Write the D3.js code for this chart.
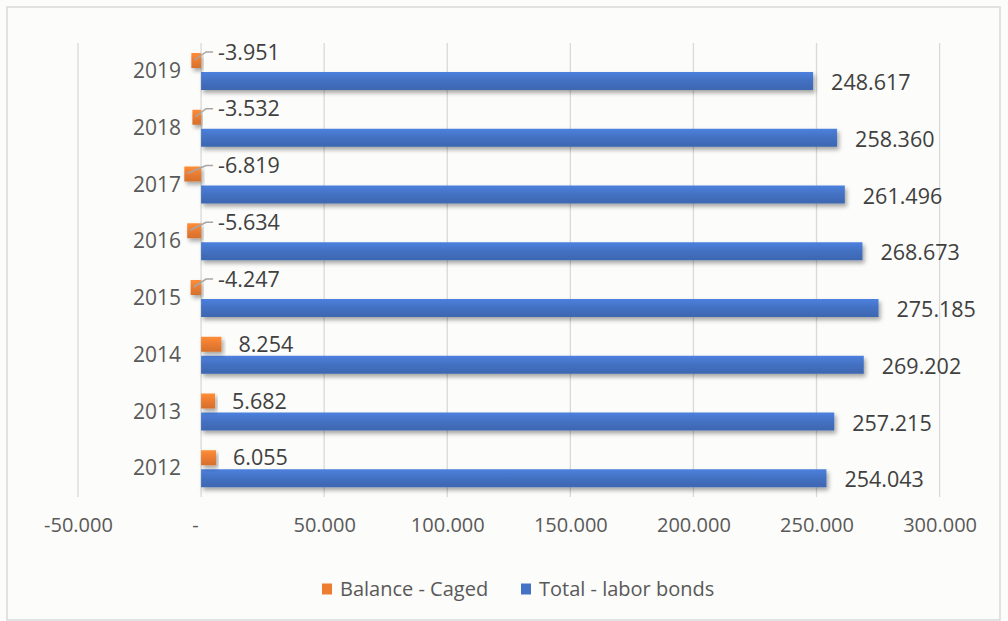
<!DOCTYPE html>
<html><head><meta charset="utf-8">
<script src="https://cdn.jsdelivr.net/npm/d3@7"></script>
<style>html,body{margin:0;padding:0;background:#fcfcfa;}svg{display:block;font-family:"Open Sans",sans-serif;}</style>
</head><body>
<svg id="c" width="1008" height="621"></svg>
<script>
const years = [2012, 2013, 2014, 2015, 2016, 2017, 2018, 2019];
const balance = [6055, 5682, 8254, -4247, -5634, -6819, -3532, -3951];
const total = [254043, 257215, 269202, 275185, 268673, 261496, 258360, 248617];
const tickValues = [-50000, 0, 50000, 100000, 150000, 200000, 250000, 300000];
const seriesNames = ["Balance - Caged", "Total - labor bonds"];
const seriesColors = ["#ED7D31", "#4472C4"];

const svg = d3.select("#c");
svg.append("rect").attr("x",7).attr("y",7).attr("width",993).attr("height",613)
  .attr("fill","#fcfcfa").attr("stroke","#d9d9d9").attr("stroke-width",1.5);

const defs = svg.append("defs");
const f = defs.append("filter").attr("id","sh").attr("x","-20%").attr("y","-50%").attr("width","140%").attr("height","220%");
f.append("feDropShadow").attr("dx",2).attr("dy",3).attr("stdDeviation",2).attr("flood-color","#000").attr("flood-opacity",0.35);
function grad(id, c){
  const g = defs.append("linearGradient").attr("id",id).attr("x1",0).attr("y1",0).attr("x2",0).attr("y2",1);
  const base = d3.color(c);
  g.append("stop").attr("offset","0%").attr("stop-color", base.brighter(0.35));
  g.append("stop").attr("offset","45%").attr("stop-color", base);
  g.append("stop").attr("offset","100%").attr("stop-color", base.darker(0.3));
}
grad("g0", seriesColors[0]); grad("g1", seriesColors[1]);

const x = d3.scaleLinear().domain([-50000, 300000]).range([78, 939.6]);
const y = d3.scaleBand().domain(years.slice().reverse()).range([43, 497]).padding(0);
const loc = d3.formatLocale({decimal:",", thousands:".", grouping:[3], currency:["",""], minus:"-"});
const fmt = loc.format(",.0f");
const tickFmt = v => v === 0 ? "-" : fmt(v);

// gridlines
svg.append("g").selectAll("line").data(tickValues).join("line")
  .attr("x1", d=>x(d)).attr("x2", d=>x(d)).attr("y1",43).attr("y2",497)
  .attr("stroke","#d9d9d9").attr("stroke-width",1.3);

// x axis labels
const ax = svg.append("g").attr("transform","translate(0,518)")
  .call(d3.axisBottom(x).tickValues(tickValues).tickFormat(tickFmt).tickSize(0).tickPadding(0));
ax.select(".domain").remove();
ax.selectAll("text").attr("font-size",20).attr("fill","#595959").attr("font-family","Open Sans").attr("dy","0.71em");
ax.selectAll(".tick").filter(d=>d===0).select("text").attr("dx",-6);

// y labels
const ay = svg.append("g").attr("transform","translate(181,0)")
  .call(d3.axisLeft(y).tickSize(0).tickPadding(0));
ay.select(".domain").remove();
ay.selectAll("text").attr("font-size",21).attr("fill","#595959").attr("font-family","Open Sans")
  .attr("dy","0.32em").attr("y",0);
ay.selectAll(".tick").attr("transform", d=>`translate(0,${y(d)+28.5})`);

const x0 = x(0);
// blue bars
svg.append("g").selectAll("rect").data(years).join("rect")
  .attr("x", x0).attr("y", (d)=>y(d)+29).attr("height",18)
  .attr("width",(d,i)=>x(total[i])-x0).attr("fill","url(#g1)").attr("filter","url(#sh)");
// orange bars
svg.append("g").selectAll("rect").data(years).join("rect")
  .attr("x",(d,i)=>Math.min(x(balance[i]),x0)).attr("y",d=>y(d)+10).attr("height",15)
  .attr("width",(d,i)=>Math.abs(x(balance[i])-x0)).attr("fill","url(#g0)").attr("filter","url(#sh)");

// blue labels
svg.append("g").selectAll("text").data(years).join("text")
  .attr("x",(d,i)=>x(total[i])+18).attr("y",d=>y(d)+39.5).attr("dy","0.35em")
  .attr("font-size",21.5).attr("fill","#404040").text((d,i)=>fmt(total[i]));

// orange labels
const ol = svg.append("g");
years.forEach((yr,i)=>{
  const v = balance[i], top = y(yr)+10;
  if (v >= 0) {
    ol.append("text").attr("x", x(v)+17).attr("y", top+7.5).attr("dy","0.35em")
      .attr("font-size",21.5).attr("fill","#404040").text(fmt(v));
  } else {
    ol.append("polyline")
      .attr("points", [[x(v)+3, top+7],[x0+5, top-1],[x0+12, top-1]].map(p=>p.join(",")).join(" "))
      .attr("fill","none").attr("stroke","#a6a6a6").attr("stroke-width",1.5);
    ol.append("text").attr("x", x0+17).attr("y", top-1).attr("dy","0.35em")
      .attr("font-size",21.5).attr("fill","#404040").text(fmt(v));
  }
});

// legend
const lg = svg.append("g").attr("transform","translate(0,589)");
const legX = [322, 521];
seriesNames.forEach((n,i)=>{
  lg.append("rect").attr("x",legX[i]).attr("y",-5.5).attr("width",10).attr("height",11).attr("fill",seriesColors[i]);
  lg.append("text").attr("x",legX[i]+18).attr("y",0).attr("dy","0.35em").attr("font-size",20)
    .attr("fill","#595959").text(n);
});
</script>
</body></html>
